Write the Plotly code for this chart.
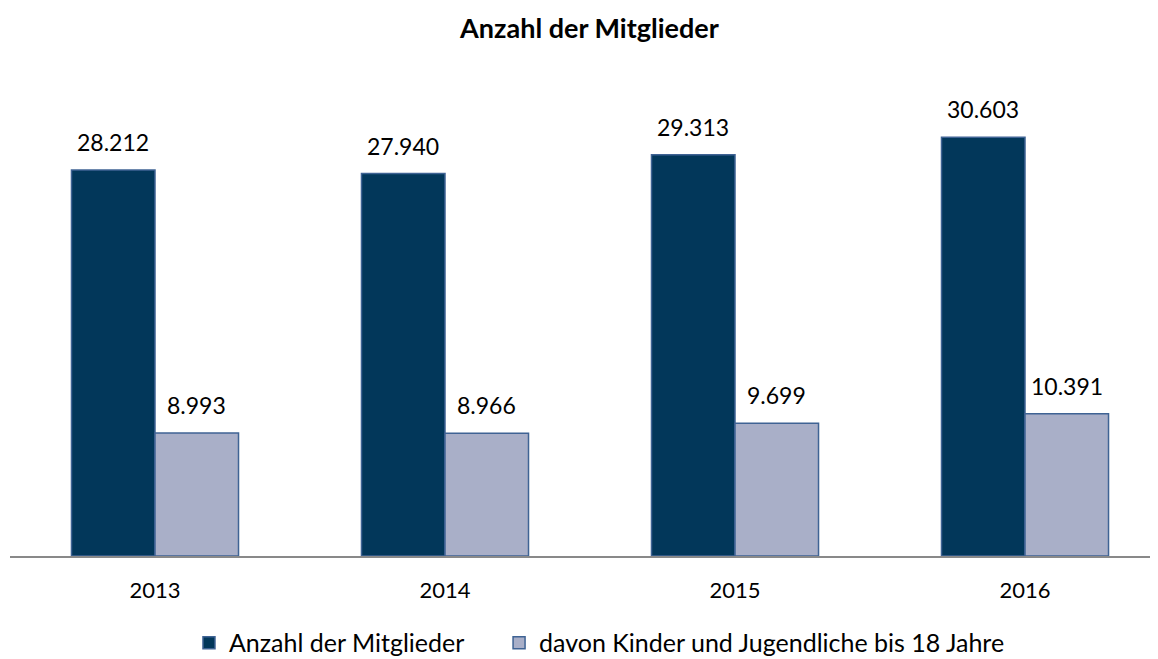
import plotly.graph_objects as go

years = ["2013", "2014", "2015", "2016"]
mitglieder = [28212, 27940, 29313, 30603]
kinder = [8993, 8966, 9699, 10391]

font_family = "Lato, 'Open Sans', sans-serif"

def fmt(v):
    return f"{v:,}".replace(",", ".")

fig = go.Figure()
fig.add_trace(go.Bar(
    x=years, y=mitglieder, name="Anzahl der Mitglieder",
    marker=dict(color="#02375A", line=dict(color="#3F6394", width=1.5)),
    legend="legend",
))
fig.add_trace(go.Bar(
    x=years, y=kinder, name="davon Kinder und Jugendliche bis 18 Jahre",
    marker=dict(color="#A9AFC8", line=dict(color="#3F6394", width=1.5)),
    legend="legend2",
))

annotations = []
for series, shift in ((mitglieder, -41.75), (kinder, 41.75)):
    for i, v in enumerate(series):
        annotations.append(dict(
            x=i, y=v, xref="x", yref="y", text=fmt(v), showarrow=False,
            xanchor="center", yanchor="bottom", xshift=shift, yshift=12,
            font=dict(size=23, color="#000000", family=font_family),
        ))

legend_common = dict(orientation="h", xanchor="left", y=-0.1816, yanchor="middle",
                     font=dict(size=25), itemwidth=30, bgcolor="rgba(0,0,0,0)")

fig.update_layout(
    width=1158, height=659,
    margin=dict(l=10, r=8, t=77, b=103, autoexpand=False),
    paper_bgcolor="white", plot_bgcolor="white",
    barmode="group", bargap=0.424, bargroupgap=0,
    title=dict(text="<b>Anzahl der Mitglieder</b>", x=0.509, xanchor="center",
               y=1 - 29 / 659, yanchor="middle",
               font=dict(size=27, color="#000000", family=font_family)),
    font=dict(family=font_family, size=22, color="#000000"),
    xaxis=dict(showline=True, linecolor="#898989", linewidth=2,
               ticks="", tickfont=dict(size=22), showgrid=False,
               ticklabelstandoff=14,
               range=[-0.5, 3.431], automargin=False, type="category"),
    yaxis=dict(range=[0, 35000], visible=False, showgrid=False),
    legend=dict(x=0.157, **legend_common),
    legend2=dict(x=0.429, **legend_common),
    annotations=annotations,
    showlegend=True,
)
fig.write_html("out.html")
